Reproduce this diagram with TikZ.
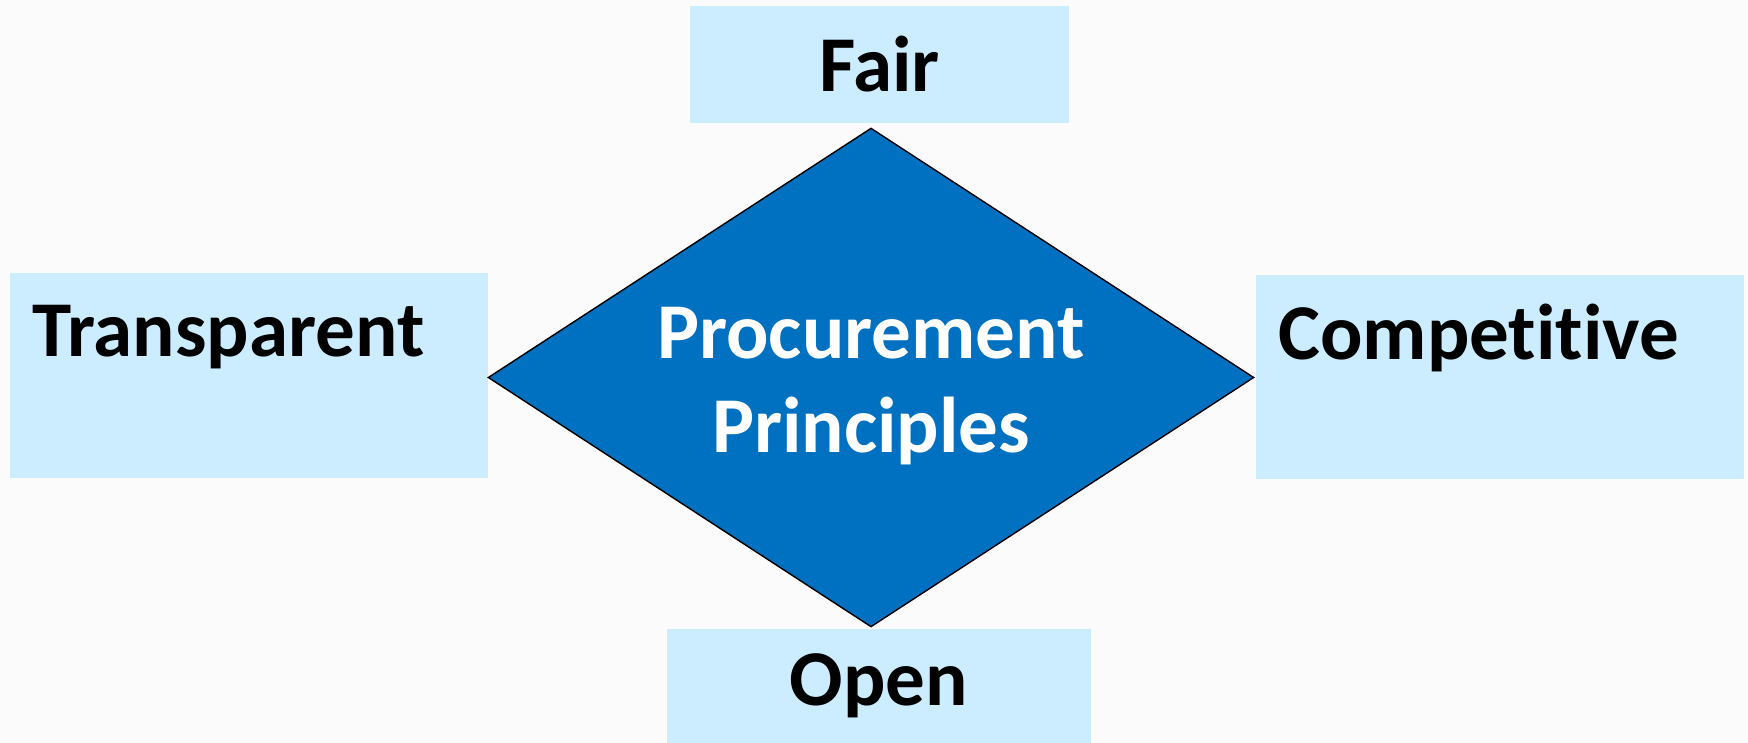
\documentclass[tikz,border=0pt]{standalone}
\usepackage{fontspec}
\setmainfont{Carlito}[Ligatures=NoCommon]
\usetikzlibrary{shapes.geometric}
\definecolor{boxblue}{HTML}{CCECFF}
\definecolor{diablue}{HTML}{0070C0}

\begin{document}
\begin{tikzpicture}[x=0.02cm,y=-0.02cm,
		box/.style={rectangle,fill=boxblue,inner sep=0pt,
			font=\fontsize{45}{54}\selectfont\bfseries},
		lbl/.style={inner sep=0pt,font=\fontsize{45}{54}\selectfont\bfseries},
		diam/.style={diamond,fill=diablue,draw=black,line width=0.8pt,inner sep=0pt,
			minimum width=15.32cm,minimum height=9.98cm},
		dtext/.style={inner sep=0pt,align=center,text=white,
			font=\fontsize{45}{53.5}\selectfont\bfseries}]
		% Hintergrund
		\fill[gray!3] (0,0) rectangle (1748,743);
		\useasboundingbox (0,0) rectangle (1748,743);
		
		% Kaesten
		\node[box,minimum width=7.58cm,minimum height=2.34cm] (fair) at (879.5,64.5) {Fair};
		\node[box,minimum width=9.56cm,minimum height=4.10cm] (transp) at (249,375.5) {};
		\node[box,minimum width=9.76cm,minimum height=4.08cm] (compet) at (1500,377) {};
		\node[box,minimum width=8.48cm,minimum height=2.28cm] (open) at (879,686) {Open};
		\node[lbl,anchor=base west] (transptext) at (32,357) {Transparent};
		\node[lbl,anchor=base west] (compettext) at (1278,359) {Competitive};
		
		% Raute in der Mitte
		\node[diam] (princ) at (871,377.5) {};
		\node[dtext,anchor=north] (princtext) at (871,307) {Procurement\\Principles};
	\end{tikzpicture}
\end{document}
